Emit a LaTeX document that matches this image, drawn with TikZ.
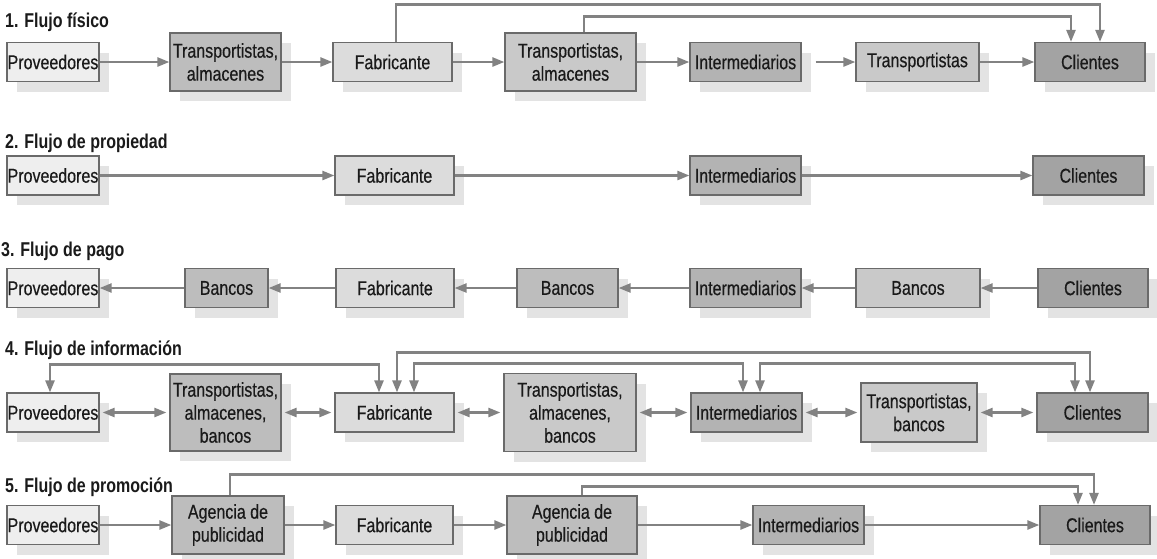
\documentclass[tikz,border=0pt]{standalone}
\usepackage{fontspec}
\setmainfont{Liberation Sans}[FakeStretch=0.8, UprightFeatures={FakeBold=0.4}]
\usepackage{xcolor}
\usepackage{tikz}
\usetikzlibrary{arrows.meta,shadows}
\definecolor{borde}{HTML}{6A6A6A}
\definecolor{linea}{HTML}{828282}
\definecolor{sombra}{HTML}{E3E3E3}
\definecolor{texto}{HTML}{1A1A1A}
\definecolor{cprov}{HTML}{EEEEEE}
\definecolor{cfab}{HTML}{DCDCDC}
\definecolor{cclaro}{HTML}{C9C9C9}
\definecolor{cmed}{HTML}{BDBDBD}
\definecolor{cint}{HTML}{B3B3B3}
\definecolor{ccli}{HTML}{A3A3A3}
\newcommand{\tam}{\fontsize{20}{23}\selectfont}
\tikzstyle{caja}=[draw=borde, line width=1.2pt, inner sep=0pt, minimum height=39pt, align=center, text=texto, general shadow={fill=sombra, draw=none, shadow xshift=10pt, shadow yshift=-10pt}]
\tikzstyle{flecha}=[draw=linea, line width=2.4pt, -{Triangle[length=12pt,width=9pt]}]
\tikzstyle{doble}=[draw=linea, line width=2.4pt, {Triangle[length=12pt,width=9pt]}-{Triangle[length=12pt,width=9pt]}]
\tikzstyle{titulo}=[anchor=base west, inner sep=0pt, font=\tam\bfseries, text=texto]

\begin{document}
\begin{tikzpicture}[x=1pt, y=-1pt, font=\tam]
						\useasboundingbox (0,0) rectangle (1157,558);
						% 1. flujo fisico
						\node[titulo] (tit1) at (5,27) {1. Flujo físico};
						\node[caja, fill=cprov, minimum width=92pt] (p1) at (53,62) {Proveedores};
						\node[caja, fill=cmed, minimum width=111pt, minimum height=58pt] (ta1) at (225.5,62) {Transportistas,\\almacenes};
						\node[caja, fill=cfab, minimum width=119pt] (f1) at (392.5,62) {Fabricante};
						\node[caja, fill=cclaro, minimum width=131pt, minimum height=58pt] (ta2) at (570.5,62) {Transportistas,\\almacenes};
						\node[caja, fill=cint, minimum width=111pt] (i1) at (745.5,62) {Intermediarios};
						\node[caja, fill=cclaro, minimum width=123pt] (t1) at (917.5,62) {Transportistas};
						\node[caja, fill=ccli, minimum width=110pt] (c1) at (1090,62) {Clientes};
						\draw[flecha] (p1) -- (ta1);
						\draw[flecha] (ta1) -- (f1);
						\draw[flecha] (f1) -- (ta2);
						\draw[flecha] (ta2) -- (i1);
						\draw[flecha, shorten <=14pt] (i1) -- (t1);
						\draw[flecha] (t1) -- (c1);
						\draw[flecha] ([xshift=3.5pt]f1.north) -- ++(0,-37.5) -| ([xshift=10pt]c1.north);
						\draw[flecha] ([xshift=13.5pt]ta2.north) -- ++(0,-16) -| ([xshift=-19pt]c1.north);
						% 2. flujo de propiedad
						\node[titulo] (tit2) at (5,148) {2. Flujo de propiedad};
						\node[caja, fill=cprov, minimum width=92pt] (p2) at (53,175.5) {Proveedores};
						\node[caja, fill=cfab, minimum width=119pt] (f2) at (394.5,175.5) {Fabricante};
						\node[caja, fill=cint, minimum width=111pt] (i2) at (745.5,175.5) {Intermediarios};
						\node[caja, fill=ccli, minimum width=111pt] (c2) at (1088.5,175.5) {Clientes};
						\draw[flecha] (p2) -- (f2);
						\draw[flecha] (f2) -- (i2);
						\draw[flecha] (i2) -- (c2);
						% 3. flujo de pago
						\node[titulo] (tit3) at (1,256) {3. Flujo de pago};
						\node[caja, fill=cprov, minimum width=92pt] (p3) at (53,288) {Proveedores};
						\node[caja, fill=cmed, minimum width=83pt] (b1) at (226.5,288) {Bancos};
						\node[caja, fill=cfab, minimum width=118pt] (f3) at (395,288) {Fabricante};
						\node[caja, fill=cmed, minimum width=101pt] (b2) at (567.5,288) {Bancos};
						\node[caja, fill=cint, minimum width=111pt] (i3) at (745.5,288) {Intermediarios};
						\node[caja, fill=cclaro, minimum width=124pt] (b3) at (918,288) {Bancos};
						\node[caja, fill=ccli, minimum width=110pt] (c3) at (1093,288) {Clientes};
						\draw[flecha] (b1) -- (p3);
						\draw[flecha] (f3) -- (b1);
						\draw[flecha] (b2) -- (f3);
						\draw[flecha] (i3) -- (b2);
						\draw[flecha] (b3) -- (i3);
						\draw[flecha] (c3) -- (b3);
						% 4. flujo de informacion
						\node[titulo] (tit4) at (5,355) {4. Flujo de información};
						\node[caja, fill=cprov, minimum width=92pt] (p4) at (53,412.5) {Proveedores};
						\node[caja, fill=cmed, minimum width=111pt, minimum height=77pt] (tab1) at (225.5,412.5) {Transportistas,\\almacenes,\\bancos};
						\node[caja, fill=cfab, minimum width=119pt] (f4) at (394.5,412.5) {Fabricante};
						\node[caja, fill=cclaro, minimum width=132pt, minimum height=78pt] (tab2) at (570,412.5) {Transportistas,\\almacenes,\\bancos};
						\node[caja, fill=cint, minimum width=111pt] (i4) at (746.5,412.5) {Intermediarios};
						\node[caja, fill=cclaro, minimum width=116pt, minimum height=59pt] (tb3) at (919,412.5) {Transportistas,\\bancos};
						\node[caja, fill=ccli, minimum width=111pt] (c4) at (1092.5,412.5) {Clientes};
						\draw[doble, shorten <=3pt, shorten >=3pt] (p4) -- (tab1);
						\draw[doble, shorten <=3pt, shorten >=3pt] (tab1) -- (f4);
						\draw[doble, shorten <=3pt, shorten >=3pt] (f4) -- (tab2);
						\draw[doble, shorten <=3pt, shorten >=3pt] (tab2) -- (i4);
						\draw[doble, shorten <=3pt, shorten >=3pt] (i4) -- (tb3);
						\draw[doble, shorten <=3pt, shorten >=3pt] (tb3) -- (c4);
						\draw[doble] ([xshift=-3pt]p4.north) -- ++(0,-28) -| ([xshift=-15.5pt]f4.north);
						\draw[doble] ([xshift=2.5pt]f4.north) -- ++(0,-40) -| ([xshift=-2.5pt]c4.north);
						\draw[doble] ([xshift=19.5pt]f4.north) -- ++(0,-29) -| ([xshift=-3.5pt]i4.north);
						\draw[doble] ([xshift=13.5pt]i4.north) -- ++(0,-29) -| ([xshift=-17.5pt]c4.north);
						% 5. flujo de promocion
						\node[titulo] (tit5) at (5,492) {5. Flujo de promoción};
						\node[caja, fill=cprov, minimum width=92pt] (p5) at (53,525) {Proveedores};
						\node[caja, fill=cmed, minimum width=112pt, minimum height=58pt] (ag1) at (228,525) {Agencia de\\publicidad};
						\node[caja, fill=cfab, minimum width=117pt] (f5) at (394.5,525) {Fabricante};
						\node[caja, fill=cmed, minimum width=130pt, minimum height=58pt] (ag2) at (572,525) {Agencia de\\publicidad};
						\node[caja, fill=cint, minimum width=111pt] (i5) at (808.5,525) {Intermediarios};
						\node[caja, fill=ccli, minimum width=110pt] (c5) at (1095,525) {Clientes};
						\draw[flecha] (p5) -- (ag1);
						\draw[flecha] (ag1) -- (f5);
						\draw[flecha] (f5) -- (ag2);
						\draw[flecha] (ag2) -- (i5);
						\draw[flecha] (i5) -- (c5);
						\draw[flecha] ([xshift=2pt]ag1.north) -- ++(0,-21) -| ([xshift=-1pt]c5.north);
						\draw[flecha] ([xshift=10pt]ag2.north) -- ++(0,-9) -| ([xshift=-17pt]c5.north);
					\end{tikzpicture}
\end{document}
